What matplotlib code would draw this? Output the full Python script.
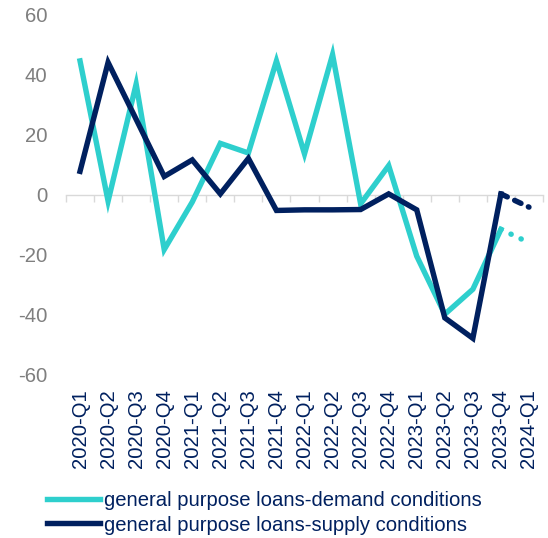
import numpy as np
import matplotlib
matplotlib.use('Agg')
import matplotlib.pyplot as plt

plt.rcParams['font.family'] = ['Liberation Sans', 'DejaVu Sans']
plt.rcParams['axes.unicode_minus'] = False

quarters = ['2020-Q1', '2020-Q2', '2020-Q3', '2020-Q4',
            '2021-Q1', '2021-Q2', '2021-Q3', '2021-Q4',
            '2022-Q1', '2022-Q2', '2022-Q3', '2022-Q4',
            '2023-Q1', '2023-Q2', '2023-Q3', '2023-Q4', '2024-Q1']
demand = [44.4, -2.2, 36.7, -18.3, -2.5, 17.0, 13.8, 44.4,
          13.5, 46.5, -3.1, 9.6, -20.5, -39.8, -31.5, -11.6, -16.0]
supply = [7.7, 43.9, 25.0, 6.0, 11.5, 0.2, 12.0, -5.3,
          -5.1, -5.1, -5.0, 0.2, -5.1, -41.0, -47.8, 0.2, -4.2]
demand_label = 'general purpose loans-demand conditions'
supply_label = 'general purpose loans-supply conditions'

cyan = '#2ECFCD'
navy = '#00205F'
fs = 14.6

x = np.arange(len(quarters))

fig = plt.figure(figsize=(5.48, 5.38), dpi=100)
ax = fig.add_axes([66 / 548, 1 - 375 / 538, 477 / 548, 361 / 538])

lw = 3.9
# solid part up to 2023-Q4, forecast part to 2024-Q1
ax.plot(x[:-1], demand[:-1], color=cyan, lw=lw, solid_joinstyle='miter',
        label=demand_label)
ax.plot(x[-2:], demand[-2:], color=cyan, lw=lw,
        linestyle=(0, (0.05, 2.0)), dash_capstyle='round')
ax.plot(x[:-1], supply[:-1], color=navy, lw=lw, solid_joinstyle='miter',
        label=supply_label)
ax.plot(x[-2:], supply[-2:], color=navy, lw=lw,
        linestyle=(0, (1.3, 1.5)), dash_capstyle='round')

ax.set_xlim(-0.5, len(quarters) - 0.5)
ax.set_ylim(-60, 60)
ax.set_yticks(np.arange(-60, 61, 20))
ax.set_xticks(x)
ax.set_xticklabels(quarters, rotation=90, color=navy, fontsize=fs)
ax.tick_params(axis='y', length=0, pad=13.5, labelsize=fs, labelcolor='#7F7F7F')
ax.tick_params(axis='x', length=0, pad=10)
for s in ax.spines.values():
    s.set_visible(False)

# zero line with category boundary ticks
zero = ax.secondary_xaxis(0, transform=ax.transData)
zero.set_xticks(np.arange(-0.5, len(quarters), 1.0))
zero.tick_params(axis='x', length=5, width=1, color='#D9D9D9', labelbottom=False)
zero.spines['bottom'].set_color('#D9D9D9')
zero.spines['bottom'].set_linewidth(1)

ax.legend(loc='center left', bbox_to_anchor=(47 / 548, 1 - 513 / 538),
          bbox_transform=fig.transFigure, frameon=False, fontsize=fs,
          handlelength=2.6, handletextpad=0.22, labelspacing=0.25,
          borderpad=0, borderaxespad=0, labelcolor=navy)

fig.savefig('out.png', dpi=100)
